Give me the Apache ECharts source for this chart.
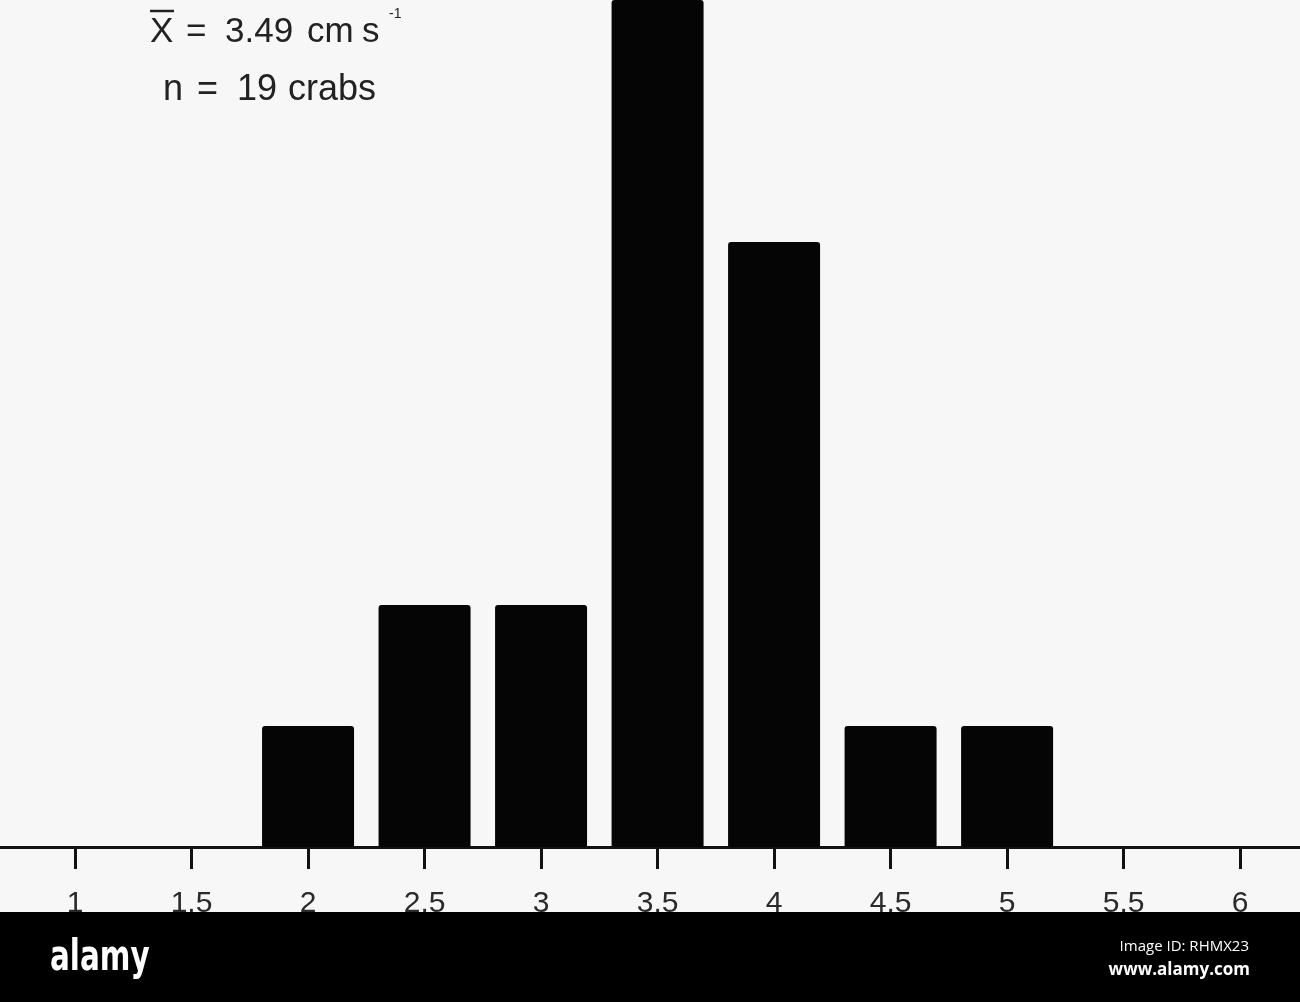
<!DOCTYPE html>
<html>
<head>
<meta charset="utf-8">
<script src="https://cdn.jsdelivr.net/npm/echarts@6/dist/echarts.min.js"></script>
<style>
html,body{margin:0;padding:0;background:#f7f7f7;}
#chart{width:1300px;height:1002px;}
</style>
</head>
<body>
<div id="chart"></div>
<script>
// Data
var binCenters = [2, 2.5, 3, 3.5, 4, 4.5, 5];
var counts = [1, 2, 2, 7, 5, 1, 1];
var tickValues = [1, 1.5, 2, 2.5, 3, 3.5, 4, 4.5, 5, 5.5, 6];
var meanParts = ["X", "=", "3.49", "cm", "s"];
var nParts = ["n", "=", "19", "crabs"];

var FONT = 'Liberation Sans, Arial, sans-serif';
var chart = echarts.init(document.getElementById('chart'), null, {renderer: 'canvas'});
var barData = binCenters.map(function (c, i) { return [c, counts[i]]; });

// annotation text placed word by word (wide spacing in the original typesetting)
var meanX = [150, 186, 225, 307, 362];
var nX = [163, 197, 237, 288];
var textGraphics = [];
meanParts.forEach(function (t, i) {
  textGraphics.push({type: 'text', z: 10, style: {x: meanX[i], y: 50, verticalAlign: 'bottom', text: t, fontSize: 35, fontFamily: FONT, fill: '#222'}});
});
nParts.forEach(function (t, i) {
  textGraphics.push({type: 'text', z: 10, style: {x: nX[i], y: 108, verticalAlign: 'bottom', text: t, fontSize: 36, fontFamily: FONT, fill: '#222'}});
});

chart.setOption({
  backgroundColor: '#f7f7f7',
  animation: false,
  grid: {left: 0, right: 0, top: 0, bottom: 155},
  xAxis: {
    type: 'value',
    min: 0.678,
    max: 6.257,
    axisLine: {show: true, onZero: false, lineStyle: {color: '#111', width: 3}},
    axisTick: {show: true, length: 22, customValues: tickValues, lineStyle: {color: '#111', width: 3}},
    axisLabel: {
      customValues: tickValues,
      margin: 42,
      fontSize: 30,
      fontFamily: FONT,
      color: '#2a2a2a',
      formatter: function (v) { return String(v); }
    },
    splitLine: {show: false}
  },
  yAxis: {
    type: 'value',
    min: 0,
    max: 7,
    show: false,
    splitLine: {show: false}
  },
  series: [{
    type: 'bar',
    data: barData,
    barWidth: 92,
    itemStyle: {color: '#050505', borderRadius: [3, 3, 0, 0]},
    z: 1
  }],
  graphic: textGraphics.concat([
    {
      type: 'text', z: 10,
      style: {x: 389, y: 7, text: '-1', fontSize: 14, fontFamily: FONT, fill: '#222'}
    },
    {
      type: 'line', z: 10,
      shape: {x1: 150, y1: 11, x2: 174, y2: 11},
      style: {stroke: '#222', lineWidth: 2.5}
    },
    {
      type: 'rect', z: 100,
      shape: {x: 0, y: 912, width: 1300, height: 90},
      style: {fill: '#000'}
    },
    {
      type: 'text', z: 101, x: 50, y: 937, scaleX: 0.76,
      style: {text: 'alamy', fontSize: 43, fontWeight: 'bold', fontFamily: 'DejaVu Sans Condensed, DejaVu Sans, sans-serif', fill: '#fff'}
    },
    {
      type: 'text', z: 101,
      style: {x: 1249, y: 954, align: 'right', verticalAlign: 'bottom', text: 'Image ID: RHMX23', fontSize: 15, fontFamily: 'Open Sans, Noto Sans, sans-serif', fill: '#fff'}
    },
    {
      type: 'text', z: 101,
      style: {x: 1250, y: 979, align: 'right', verticalAlign: 'bottom', text: 'www.alamy.com', fontSize: 17, fontWeight: 'bold', fontFamily: 'Open Sans, Noto Sans, sans-serif', fill: '#fff'}
    }
  ])
});
</script>
</body>
</html>
